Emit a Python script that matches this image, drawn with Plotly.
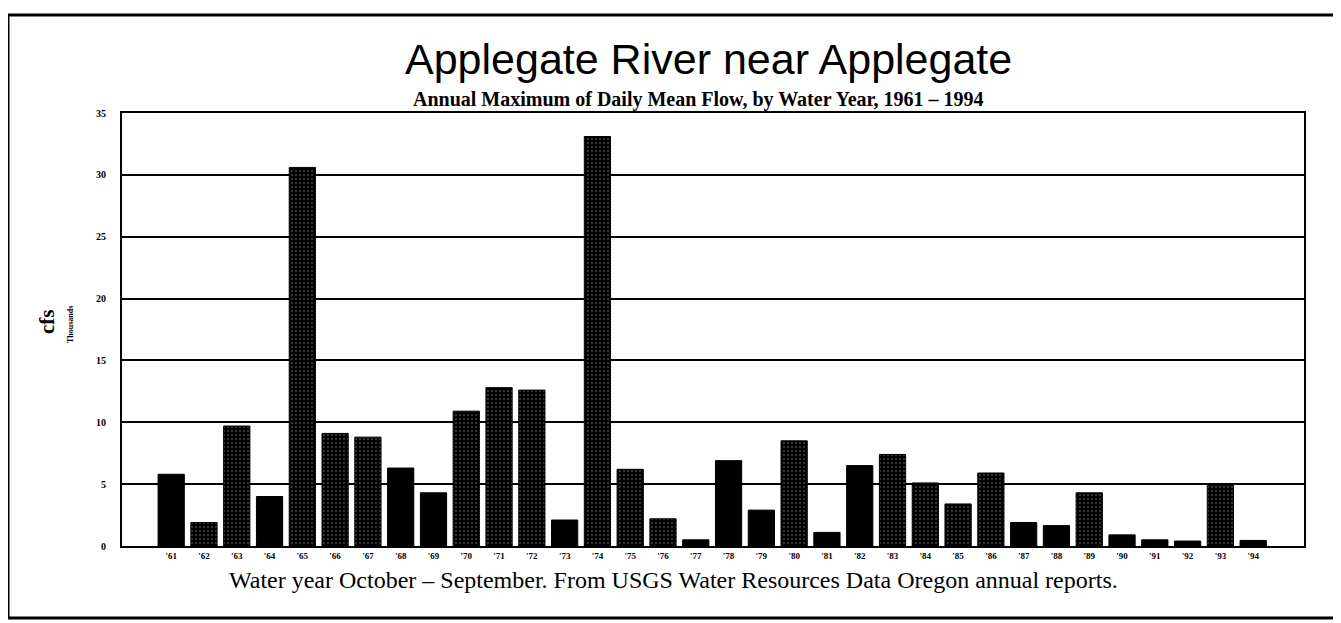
import plotly.graph_objects as go

# ---- data (thousands of cfs) ----
water_years = ["'61", "'62", "'63", "'64", "'65", "'66", "'67", "'68", "'69", "'70",
               "'71", "'72", "'73", "'74", "'75", "'76", "'77", "'78", "'79", "'80",
               "'81", "'82", "'83", "'84", "'85", "'86", "'87", "'88", "'89", "'90",
               "'91", "'92", "'93", "'94"]
max_daily_mean_kcfs = [5.8, 1.9, 9.7, 4.0, 30.6, 9.1, 8.8, 6.3, 4.3, 10.9,
                       12.8, 12.6, 2.1, 33.1, 6.2, 2.2, 0.5, 6.9, 2.9, 8.5,
                       1.1, 6.5, 7.4, 5.1, 3.4, 5.9, 1.9, 1.65, 4.3, 0.9,
                       0.5, 0.4, 4.9, 0.45]
# texture of each bar in the scan: "." = dotted screen, "" = solid black
bar_texture = ["", ".", ".", "", ".", ".", ".", "", "", ".",
               ".", ".", "", ".", ".", ".", "", "", "", ".",
               "", "", ".", ".", ".", ".", "", "", ".", "",
               "", "", ".", ""]
y_ticks = [0, 5, 10, 15, 20, 25, 30, 35]

# the page body has an 8px margin, so the figure is laid out 8px up/left
OFF = 8
W, H = 1341 - OFF, 623 - OFF
ML = 122 - OFF
MT = 113 - OFF
MR = W - (1304 - OFF)
MB = H - (546 - OFF)
PW, PH = W - ML - MR, H - MT - MB


def px(x):
    return (x - OFF - ML) / PW


def py(y):
    return (H - MB - (y - OFF)) / PH


x_idx = list(range(len(water_years)))

fig = go.Figure(go.Bar(
    x=x_idx,
    y=max_daily_mean_kcfs,
    marker=dict(color="black", line=dict(color="black", width=1),
                pattern=dict(shape=bar_texture, fgcolor="white", bgcolor="black",
                             size=4, solidity=0.12)),
    hoverinfo="x+y",
))

serif = "Liberation Serif, Times New Roman, serif"

fig.update_layout(
    width=W, height=H,
    margin=dict(l=ML, r=MR, t=MT, b=MB),
    paper_bgcolor="white", plot_bgcolor="white",
    bargap=0.2,
    showlegend=False,
    xaxis=dict(
        range=[-1.5, len(water_years) - 1 + 1.55],
        tickmode="array", tickvals=x_idx, ticktext=water_years,
        tickfont=dict(family=serif, size=9, color="black", weight="bold"),
        showgrid=False, zeroline=False,
        showline=True, linecolor="black", linewidth=2, mirror=True,
        ticks="", fixedrange=True,
    ),
    yaxis=dict(
        range=[0, 35], tickmode="array", tickvals=y_ticks,
        tickfont=dict(family=serif, size=10, color="black", weight="bold"),
        showgrid=True, gridcolor="black", gridwidth=2,
        zeroline=False,
        showline=True, linecolor="black", linewidth=2, mirror=True,
        ticks="", ticklabelstandoff=12, fixedrange=True,
    ),
    annotations=[
        dict(text="Applegate River near Applegate", xref="paper", yref="paper",
             x=px(708), y=py(59), xanchor="center", yanchor="middle", showarrow=False,
             font=dict(family="Liberation Sans, Arial, Helvetica", size=43, color="black")),
        dict(text="Annual Maximum of Daily Mean Flow, by Water Year, 1961 \u2013 1994",
             xref="paper", yref="paper", x=px(698), y=py(99),
             xanchor="center", yanchor="middle", showarrow=False,
             font=dict(family=serif, size=20, color="black", weight="bold")),
        dict(text="Water year October \u2013 September. From USGS Water Resources Data Oregon annual reports.",
             xref="paper", yref="paper", x=px(673), y=py(580),
             xanchor="center", yanchor="middle", showarrow=False,
             font=dict(family=serif, size=24, color="black")),
        dict(text="<b>cfs</b>", xref="paper", yref="paper", x=px(47), y=py(322),
             xanchor="center", yanchor="middle", showarrow=False, textangle=-90,
             font=dict(family=serif, size=21, color="black")),
        dict(text="<b>Thousands</b>", xref="paper", yref="paper", x=px(70), y=py(325),
             xanchor="center", yanchor="middle", showarrow=False, textangle=-90,
             font=dict(family=serif, size=8, color="black")),
    ],
    shapes=[
        dict(type="rect", xref="paper", yref="paper",
             x0=px(8), x1=px(1338), y0=py(618), y1=py(15),
             line=dict(color="black", width=3), fillcolor="rgba(0,0,0,0)", layer="below"),
    ],
)

fig.write_html("out.html")
